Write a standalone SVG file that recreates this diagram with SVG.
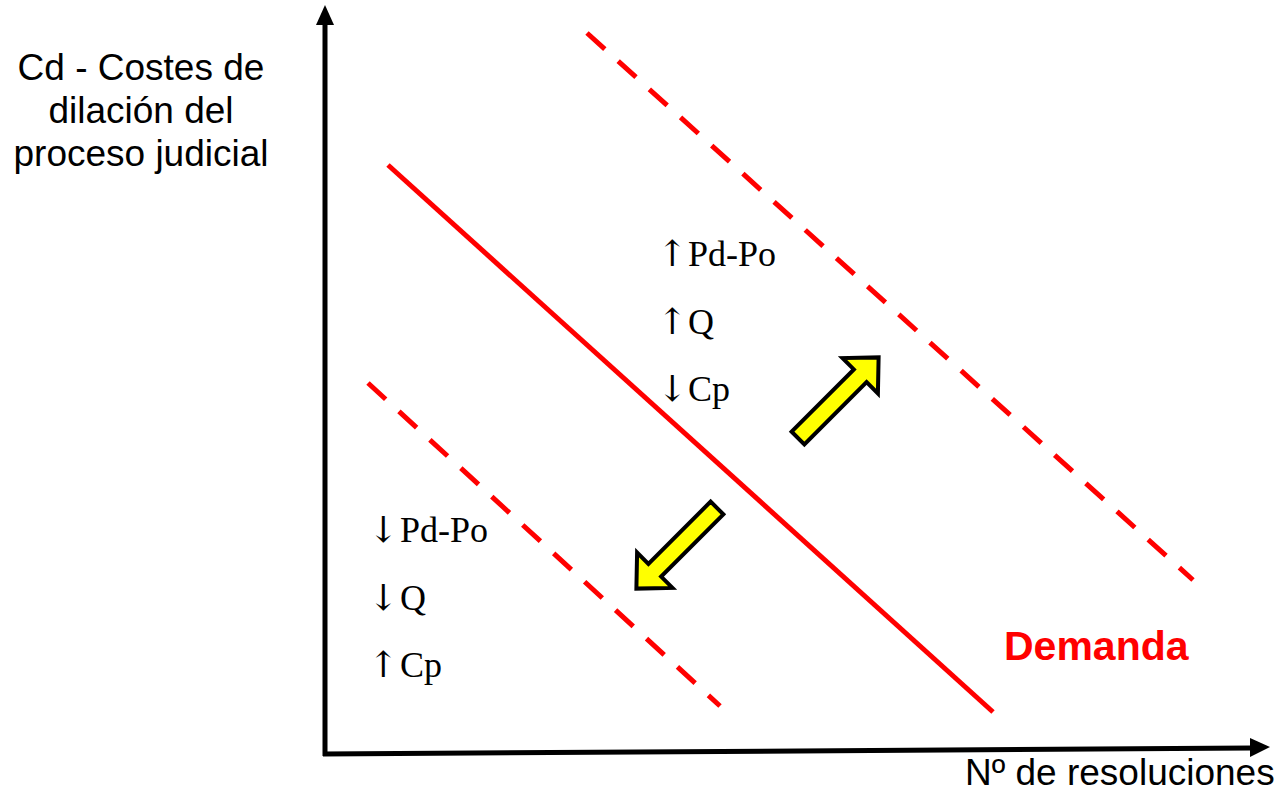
<svg xmlns="http://www.w3.org/2000/svg" width="1280" height="792" viewBox="0 0 1280 792">
<style>
.axis{stroke:#000;stroke-width:5;fill:none}
.demand{stroke:#ff0000;stroke-width:5;fill:none}
.shift{stroke:#ff0000;stroke-width:5;fill:none;stroke-dasharray:24 18}
.lbl{font-family:"Liberation Sans",Arial,sans-serif;font-size:37px;fill:#000}
.eff{font-family:"Liberation Serif","Times New Roman","DejaVu Serif",serif;font-size:36px;fill:#000}
.ar{font-family:"DejaVu Serif",serif;font-size:36px;font-weight:normal}
.fat{fill:#ffff00;stroke:#000;stroke-width:4;stroke-linejoin:miter}
</style>
<defs>
<polygon id="fatArrow" points="0,-9 88,-9 88,-25 114,0 88,25 88,9 0,9"/>
</defs>
<rect width="1280" height="792" fill="#fff"/>
<g id="connectors">
<line class="axis" x1="325" y1="756" x2="325" y2="22"/>
<polygon points="325,5 316,25 334,25" fill="#000"/>
<line class="axis" x1="323" y1="754" x2="1252" y2="748"/>
<polygon points="1270,747 1250,738 1250,757" fill="#000"/>
<line class="demand" x1="388" y1="165" x2="993" y2="712"/>
<line class="shift" x1="587" y1="33" x2="1193" y2="580"/>
<line class="shift" x1="368" y1="383" x2="720" y2="706"/>
</g>
<g id="arrow-up"><use href="#fatArrow" class="fat" transform="translate(798,438) rotate(-45)"/></g>
<g id="arrow-down"><use href="#fatArrow" class="fat" transform="translate(717,508) rotate(135)"/></g>
<g id="y-label">
<text class="lbl" text-anchor="middle" x="141" y="80">Cd - Costes de</text>
<text class="lbl" text-anchor="middle" x="141" y="123">dilación del</text>
<text class="lbl" text-anchor="middle" x="141" y="166">proceso judicial</text>
</g>
<g id="x-label"><text class="lbl" x="965" y="785">Nº de resoluciones</text></g>
<g id="demand-label"><text x="1004" y="660" style="font-family:'Liberation Sans',Arial,sans-serif;font-size:41px;font-weight:bold;fill:#ff0000">Demanda</text></g>
<g id="effects-up">
<text class="eff" x="657" y="266"><tspan class="ar">↑</tspan><tspan x="688">Pd-Po</tspan></text>
<text class="eff" x="657" y="334"><tspan class="ar">↑</tspan><tspan x="688">Q</tspan></text>
<text class="eff" x="657" y="401"><tspan class="ar">↓</tspan><tspan x="688">Cp</tspan></text>
</g>
<g id="effects-down">
<text class="eff" x="368" y="542"><tspan class="ar">↓</tspan><tspan x="400">Pd-Po</tspan></text>
<text class="eff" x="368" y="610"><tspan class="ar">↓</tspan><tspan x="400">Q</tspan></text>
<text class="eff" x="368" y="677"><tspan class="ar">↑</tspan><tspan x="400">Cp</tspan></text>
</g>
</svg>
